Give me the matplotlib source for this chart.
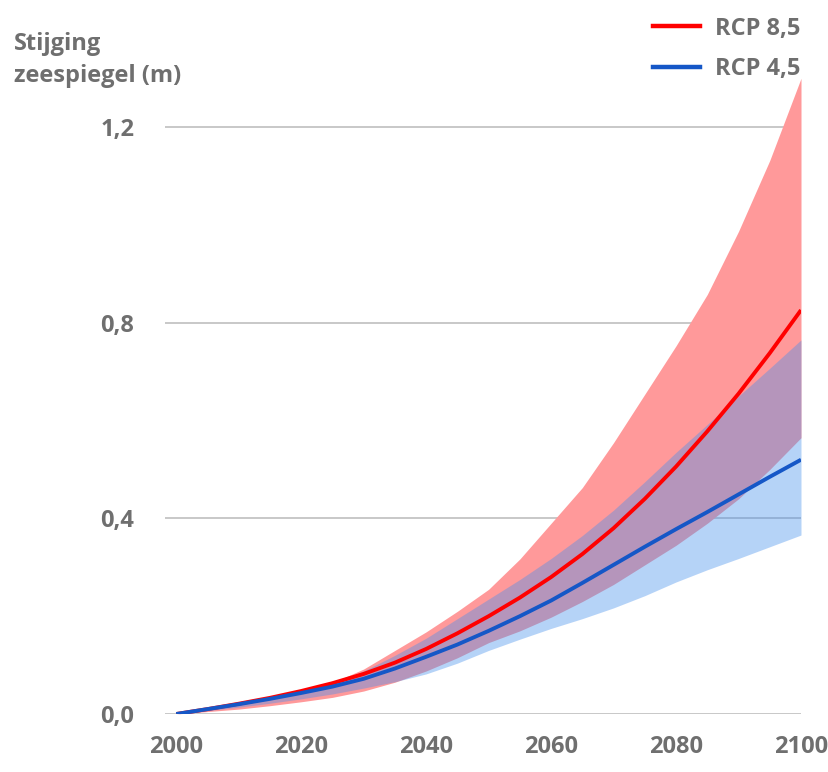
import matplotlib
matplotlib.use("Agg")
import matplotlib.pyplot as plt
from matplotlib.lines import Line2D

years = [2000, 2005, 2010, 2015, 2020, 2025, 2030, 2035, 2040, 2045, 2050,
         2055, 2060, 2065, 2070, 2075, 2080, 2085, 2090, 2095, 2100]
rcp85_mean = [0, 0.010, 0.021, 0.033, 0.047, 0.063, 0.082, 0.105, 0.133, 0.165, 0.200,
              0.238, 0.280, 0.327, 0.380, 0.440, 0.506, 0.578, 0.655, 0.738, 0.826]
rcp85_low = [0, 0.005, 0.010, 0.017, 0.025, 0.034, 0.047, 0.065, 0.088, 0.115, 0.146,
             0.170, 0.198, 0.230, 0.265, 0.305, 0.345, 0.390, 0.440, 0.500, 0.565]
rcp85_high = [0, 0.010, 0.020, 0.031, 0.046, 0.064, 0.092, 0.130, 0.168, 0.210, 0.255,
              0.317, 0.390, 0.463, 0.555, 0.654, 0.753, 0.858, 0.987, 1.132, 1.300]
rcp45_mean = [0, 0.010, 0.020, 0.031, 0.043, 0.056, 0.072, 0.093, 0.117, 0.142, 0.170,
              0.200, 0.232, 0.268, 0.305, 0.342, 0.378, 0.413, 0.449, 0.485, 0.520]
rcp45_low = [0, 0.007, 0.014, 0.022, 0.031, 0.041, 0.053, 0.066, 0.082, 0.104, 0.130,
             0.153, 0.175, 0.195, 0.217, 0.242, 0.270, 0.295, 0.318, 0.342, 0.366]
rcp45_high = [0, 0.010, 0.021, 0.034, 0.047, 0.062, 0.088, 0.120, 0.155, 0.195, 0.235,
              0.275, 0.318, 0.365, 0.417, 0.475, 0.535, 0.592, 0.650, 0.707, 0.765]

yticks = [0.0, 0.4, 0.8, 1.2]
ytick_labels = ["0,0", "0,4", "0,8", "1,2"]
xticks = [2000, 2020, 2040, 2060, 2080, 2100]
series_labels = ["RCP 8,5", "RCP 4,5"]
ylabel = "Stijging\nzeespiegel (m)"

plt.rcParams['font.family'] = ['Open Sans', 'DejaVu Sans']
gray = '#6F6F6F'

fig = plt.figure(figsize=(8.29, 7.72), dpi=100)
W, H = 829, 772
left, right = 165 / W, 801 / W
bottom = (H - 714) / H
top = 1 - 73.4 / H
ax = fig.add_axes([left, bottom, right - left, top - bottom])

ax.fill_between(years, rcp85_low, rcp85_high, color='#FF999A', lw=0, zorder=2)
ax.fill_between(years, rcp45_low, rcp45_high, color='#4891ED', alpha=0.4, lw=0, zorder=3)
ax.plot(years, rcp85_mean, color='#FF0000', lw=2.8, zorder=5, solid_capstyle='butt')
ax.plot(years, rcp45_mean, color='#1557C7', lw=2.8, zorder=6, solid_capstyle='butt')

ax.set_xlim(1998.2, 2100)
ax.set_ylim(0, 1.31)
ax.set_yticks(yticks)
ax.set_yticklabels(ytick_labels)
ax.set_xticks(xticks)
ax.grid(axis='y', color='#BFBFBF', lw=1.2, zorder=1)
ax.grid(axis='x', visible=False)
for s in ax.spines.values():
    s.set_visible(False)
ax.tick_params(axis='both', length=0, labelsize=17, labelcolor=gray)
ax.tick_params(axis='y', pad=22)
ax.tick_params(axis='x', pad=15)
for t in ax.get_xticklabels() + ax.get_yticklabels():
    t.set_fontweight('bold')

fig.text(14 / W, 1 - 32 / H, ylabel, ha='left', va='top', fontsize=17,
         fontweight='bold', color=gray, linespacing=1.45)

handles = [Line2D([0], [0], color='#FF0000', lw=3.2),
           Line2D([0], [0], color='#1557C7', lw=3.2)]
leg = fig.legend(handles, series_labels, loc='upper right',
                 bbox_to_anchor=(1 - 12 / W, 1 - 0 / H), frameon=False,
                 fontsize=17, handlelength=2.0, handletextpad=0.65,
                 labelspacing=0.7, borderaxespad=0.3)
for t in leg.get_texts():
    t.set_color(gray)
    t.set_fontweight('bold')

fig.savefig('out.png', dpi=100)
